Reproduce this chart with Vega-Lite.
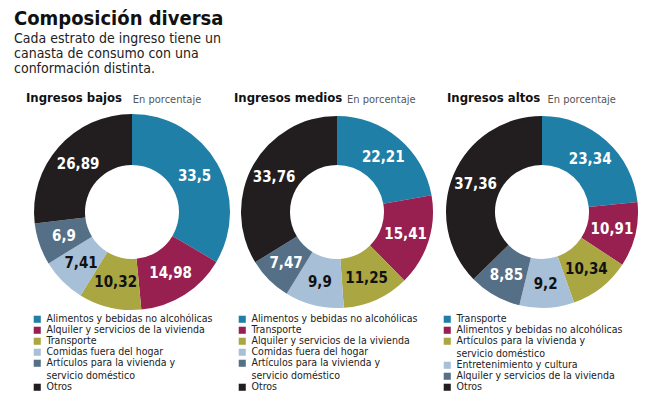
{
  "$schema": "https://vega.github.io/schema/vega-lite/v6.json",
  "padding": {"left": 14, "top": 9, "right": 5, "bottom": 0},
  "config": {
    "font": "'DejaVu Sans Condensed', 'DejaVu Sans', sans-serif",
    "view": {"stroke": null},
    "locale": {"number": {"decimal": ",", "thousands": ".", "grouping": [3], "currency": ["", " €"]}},
    "title": {"anchor": "start", "fontSize": 13, "fontWeight": "bold", "color": "#111", "offset": 9, "subtitleFontSize": 11, "subtitleColor": "#555", "subtitlePadding": -11},
    "legend": {"orient": "bottom", "direction": "vertical", "title": null, "symbolType": "square", "symbolSize": 50, "symbolStrokeWidth": 0, "labelFontSize": 10.5, "labelColor": "#222", "labelLimit": 230, "rowPadding": 0, "offset": 4}
  },
  "title": {
    "text": "Composición diversa",
    "subtitle": ["Cada estrato de ingreso tiene un", "canasta de consumo con una", "conformación distinta."],
    "anchor": "start", "dx": -12, "fontSize": 20, "fontWeight": "bold", "color": "#111",
    "subtitleFontSize": 14, "subtitleLineHeight": 15, "subtitleColor": "#222", "subtitlePadding": 3, "offset": 16
  },
  "bounds": "flush",
  "spacing": 5,
  "resolve": {"scale": {"color": "independent"}, "legend": {"color": "independent"}},
  "hconcat": [
    {
      "width": 200, "height": 196,
      "title": {"text": "Ingresos bajos", "subtitle": "\u200b\u00a0\u00a0\u00a0\u00a0\u00a0\u00a0\u00a0\u00a0\u00a0\u00a0\u00a0\u00a0\u00a0\u00a0\u00a0\u00a0\u00a0\u00a0\u00a0\u00a0\u00a0\u00a0\u00a0\u00a0\u00a0\u00a0\u00a0\u00a0\u00a0\u00a0\u00a0\u00a0\u00a0\u00a0En porcentaje", "dx": -6},
      "data": {"values": [
        {"cat": "Alimentos y bebidas no alcohólicas", "value": 33.5, "rank": 1},
        {"cat": "Alquiler y servicios de la vivienda", "value": 14.98, "rank": 2},
        {"cat": "Transporte", "value": 10.32, "rank": 3},
        {"cat": "Comidas fuera del hogar", "value": 7.41, "rank": 4},
        {"cat": "Artículos para la vivienda y servicio doméstico", "value": 6.9, "rank": 5},
        {"cat": "Otros", "value": 26.89, "rank": 6}
      ]},
      "layer": [
        {
          "mark": {"type": "arc", "outerRadius": 98, "innerRadius": 47},
          "encoding": {
            "theta": {"field": "value", "type": "quantitative", "stack": true},
            "order": {"field": "rank", "type": "quantitative"},
            "color": {"field": "cat", "type": "nominal",
              "scale": {"domain": ["Alimentos y bebidas no alcohólicas", "Alquiler y servicios de la vivienda", "Transporte", "Comidas fuera del hogar", "Artículos para la vivienda y servicio doméstico", "Otros"], "range": ["#1f7fa6", "#972050", "#aaa642", "#a8bfd8", "#557086", "#221e1f"]},
              "legend": {"labelExpr": "length(datum.label) > 36 ? [slice(datum.label, 0, 28), trim(slice(datum.label, 28))] : datum.label"}}
          }
        },
        {
          "mark": {"type": "text", "radius": 72, "fontSize": 15, "fontWeight": "bold"},
          "encoding": {
            "theta": {"field": "value", "type": "quantitative", "stack": true},
            "order": {"field": "rank", "type": "quantitative"},
            "text": {"field": "value", "type": "quantitative", "format": ".4~r"},
            "color": {"condition": {"test": "datum.rank == 3 || datum.rank == 4", "value": "#111"}, "value": "white"}
          }
        }
      ]
    },
    {
      "width": 200, "height": 196,
      "title": {"text": "Ingresos medios", "subtitle": "\u200b\u00a0\u00a0\u00a0\u00a0\u00a0\u00a0\u00a0\u00a0\u00a0\u00a0\u00a0\u00a0\u00a0\u00a0\u00a0\u00a0\u00a0\u00a0\u00a0\u00a0\u00a0\u00a0\u00a0\u00a0\u00a0\u00a0\u00a0\u00a0\u00a0\u00a0\u00a0\u00a0\u00a0\u00a0\u00a0\u00a0En porcentaje", "dx": -3},
      "data": {"values": [
        {"cat": "Alimentos y bebidas no alcohólicas", "value": 22.21, "rank": 1},
        {"cat": "Transporte", "value": 15.41, "rank": 2},
        {"cat": "Alquiler y servicios de la vivienda", "value": 11.25, "rank": 3},
        {"cat": "Comidas fuera del hogar", "value": 9.9, "rank": 4},
        {"cat": "Artículos para la vivienda y servicio doméstico", "value": 7.47, "rank": 5},
        {"cat": "Otros", "value": 33.76, "rank": 6}
      ]},
      "layer": [
        {
          "mark": {"type": "arc", "outerRadius": 96, "innerRadius": 47},
          "encoding": {
            "theta": {"field": "value", "type": "quantitative", "stack": true},
            "order": {"field": "rank", "type": "quantitative"},
            "color": {"field": "cat", "type": "nominal",
              "scale": {"domain": ["Alimentos y bebidas no alcohólicas", "Transporte", "Alquiler y servicios de la vivienda", "Comidas fuera del hogar", "Artículos para la vivienda y servicio doméstico", "Otros"], "range": ["#1f7fa6", "#972050", "#aaa642", "#a8bfd8", "#557086", "#221e1f"]},
              "legend": {"labelExpr": "length(datum.label) > 36 ? [slice(datum.label, 0, 28), trim(slice(datum.label, 28))] : datum.label"}}
          }
        },
        {
          "mark": {"type": "text", "radius": 72, "fontSize": 15, "fontWeight": "bold"},
          "encoding": {
            "theta": {"field": "value", "type": "quantitative", "stack": true},
            "order": {"field": "rank", "type": "quantitative"},
            "text": {"field": "value", "type": "quantitative", "format": ".4~r"},
            "color": {"condition": {"test": "datum.rank == 3 || datum.rank == 4", "value": "#111"}, "value": "white"}
          }
        }
      ]
    },
    {
      "width": 200, "height": 196,
      "title": {"text": "Ingresos altos", "subtitle": "\u200b\u00a0\u00a0\u00a0\u00a0\u00a0\u00a0\u00a0\u00a0\u00a0\u00a0\u00a0\u00a0\u00a0\u00a0\u00a0\u00a0\u00a0\u00a0\u00a0\u00a0\u00a0\u00a0\u00a0\u00a0\u00a0\u00a0\u00a0\u00a0\u00a0\u00a0\u00a0\u00a0En porcentaje", "dx": 5},
      "data": {"values": [
        {"cat": "Transporte", "value": 23.34, "rank": 1},
        {"cat": "Alimentos y bebidas no alcohólicas", "value": 10.91, "rank": 2},
        {"cat": "Artículos para la vivienda y servicio doméstico", "value": 10.34, "rank": 3},
        {"cat": "Entretenimiento y cultura", "value": 9.2, "rank": 4},
        {"cat": "Alquiler y servicios de la vivienda", "value": 8.85, "rank": 5},
        {"cat": "Otros", "value": 37.36, "rank": 6}
      ]},
      "layer": [
        {
          "mark": {"type": "arc", "outerRadius": 96, "innerRadius": 47},
          "encoding": {
            "theta": {"field": "value", "type": "quantitative", "stack": true},
            "order": {"field": "rank", "type": "quantitative"},
            "color": {"field": "cat", "type": "nominal",
              "scale": {"domain": ["Transporte", "Alimentos y bebidas no alcohólicas", "Artículos para la vivienda y servicio doméstico", "Entretenimiento y cultura", "Alquiler y servicios de la vivienda", "Otros"], "range": ["#1f7fa6", "#972050", "#aaa642", "#a8bfd8", "#557086", "#221e1f"]},
              "legend": {"labelExpr": "length(datum.label) > 36 ? [slice(datum.label, 0, 28), trim(slice(datum.label, 28))] : datum.label"}}
          }
        },
        {
          "mark": {"type": "text", "radius": 72, "fontSize": 15, "fontWeight": "bold"},
          "encoding": {
            "theta": {"field": "value", "type": "quantitative", "stack": true},
            "order": {"field": "rank", "type": "quantitative"},
            "text": {"field": "value", "type": "quantitative", "format": ".4~r"},
            "color": {"condition": {"test": "datum.rank == 3 || datum.rank == 4", "value": "#111"}, "value": "white"}
          }
        }
      ]
    }
  ]
}
